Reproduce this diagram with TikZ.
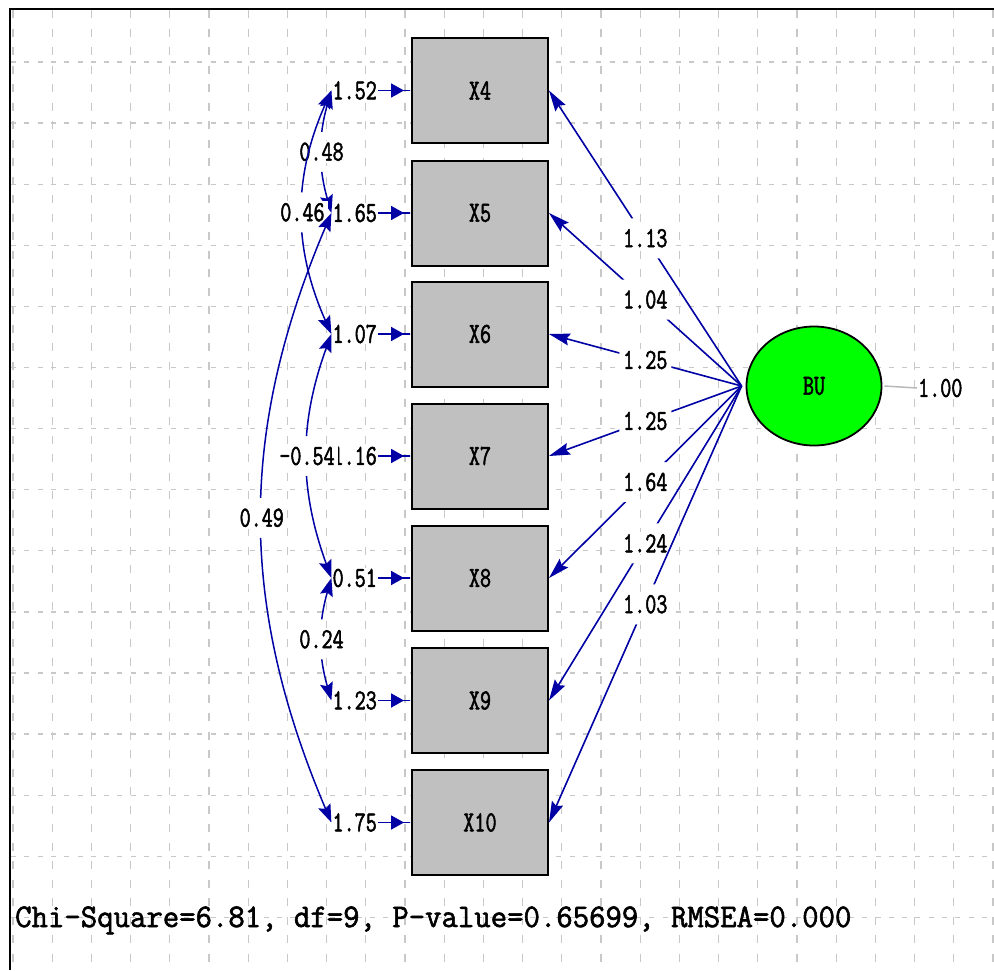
\documentclass[tikz,border=0pt]{standalone}
\usepackage{fontspec}
\usetikzlibrary{arrows.meta,shapes.geometric}
\newfontfamily\labfont[FakeStretch=0.74,FakeBold=1.8]{Latin Modern Mono}
\newfontfamily\fitfont[FakeStretch=0.965,FakeBold=1.8]{Latin Modern Mono}
\definecolor{pathblue}{RGB}{0,0,165}
\definecolor{gridgray}{RGB}{200,200,200}
\definecolor{boxgray}{RGB}{192,192,192}
\definecolor{latgreen}{RGB}{0,255,0}
\definecolor{vargray}{RGB}{185,185,185}
% clip keeping everything except a 52 x 40 window round a label node
% (used inside a scope with the even odd rule)
\newcommand{\labelgap}[1]{\clip (0,0) rectangle (994,970)
  ([shift={(-26pt,-20pt)}]#1.center) rectangle ([shift={(26pt,20pt)}]#1.center);}

\begin{document}
\begin{tikzpicture}[x=1pt,y=-1pt,
  lab/.style={font=\labfont\fontsize{29}{29}\selectfont, inner sep=1pt},
  obs/.style={lab, draw=black, line width=2pt, fill=boxgray,
    minimum width=136pt, minimum height=105pt, inner sep=0pt},
  lat/.style={lab, ellipse, draw=black, line width=1.8pt, fill=latgreen,
    minimum width=135pt, minimum height=119pt},
  coef/.style={lab, fill=white, inner xsep=3pt, inner ysep=2pt},
  errlab/.style={lab, fill=white, anchor=east},
  load/.style={pathblue, line width=1.6pt,
    -{Stealth[length=21pt,width=12pt,inset=3pt]}},
  errarrow/.style={pathblue, line width=1.8pt,
    -{Triangle[length=13pt,width=14pt] Rectangle[length=7pt,width=1.8pt]}},
  cov/.style={pathblue, line width=1.5pt,
    {Stealth[length=18pt,width=13pt,inset=3pt]}-{Stealth[length=18pt,width=13pt,inset=3pt]}},
  gridv/.style={gridgray, line width=1.3pt, dash pattern=on 8pt off 10.5pt},
  gridh/.style={gridgray, line width=1.3pt, dash pattern=on 5pt off 8.3pt},
]
\useasboundingbox (0,0) rectangle (994,970);
\fill[white] (0,0) rectangle (994,970);

% dashed background grid
\foreach \k in {0,...,25}
  \draw[gridv] ({13+39.2*\k},10) -- ({13+39.2*\k},970);
\foreach \k in {0,...,14}
  \draw[gridh] (11,{62+61.1*\k}) -- (994,{62+61.1*\k});
\draw[line width=2.4pt] (10,970) -- (10,9) -- (994,9);

% observed variables
\node[obs] (x4)  at (480,90.5)  {X4};
\node[obs] (x5)  at (480,213)   {X5};
\node[obs] (x6)  at (480,334)   {X6};
\node[obs] (x7)  at (480,456)   {X7};
\node[obs] (x8)  at (480,578)   {X8};
\node[obs] (x9)  at (480,700.5) {X9};
\node[obs] (x10) at (480,822.5) {X10};

% latent variable and its variance
\node[lat] (bu) at (814,386) {BU};
\coordinate (src) at ([xshift=-4pt]bu.west);
\node[lab, anchor=west] (v) at (917,388) {1.00};
\draw[vargray, line width=1.5pt] ([xshift=2pt]bu.east) -- (v.west);

% loadings
\foreach \n/\v in {4/1.13,5/1.04,6/1.25,7/1.25,8/1.64,9/1.24,10/1.03}{
  \path (src) -- node[coef] (l\n) {\v} (x\n.east);
  \begin{scope}[even odd rule]\labelgap{l\n}
    \draw[load] (src) -- (x\n.east);
  \end{scope}
}

% error variances
\foreach \n/\v in {4/1.52,5/1.65,6/1.07,7/1.16,8/0.51,9/1.23,10/1.75}{
  \node[errlab] (e\n) at ([xshift=-33pt]x\n.west) {\v};
  \draw[errarrow] (e\n.east) -- (x\n.west);
}

% error covariances
\path (e4.west) to[bend right=16] node[coef] (c45) {0.48} (e5.west);
\begin{scope}[even odd rule]\labelgap{c45}
  \draw[cov] (e4.west) to[bend right=16] (e5.west);
\end{scope}

\path (e4.west) to[bend right=24] node[coef] (c46) {0.46} (e6.west);
\begin{scope}[even odd rule]\labelgap{c46}
  \draw[cov] (e4.west) to[bend right=24] (e6.west);
\end{scope}

\path (e5.west) to[bend right=23] node[coef] (c510) {0.49} (e10.west);
\begin{scope}[even odd rule]\labelgap{c510}
  \draw[cov] (e5.west) to[bend right=23] (e10.west);
\end{scope}

\path (e6.west) to[bend right=20] node[coef] (c68) {-0.54} (e8.west);
\begin{scope}[even odd rule]\labelgap{c68}
  \draw[cov] (e6.west) to[bend right=20] (e8.west);
\end{scope}

\path (e8.west) to[bend right=16] node[coef] (c89) {0.24} (e9.west);
\begin{scope}[even odd rule]\labelgap{c89}
  \draw[cov] (e8.west) to[bend right=16] (e9.west);
\end{scope}

% fit statistics
\node[font=\fitfont\fontsize{33}{33}\selectfont, anchor=base west, inner sep=0pt]
  (fit) at (15,927) {Chi-Square=6.81, df=9, P-value=0.65699, RMSEA=0.000};
\end{tikzpicture}
\end{document}
